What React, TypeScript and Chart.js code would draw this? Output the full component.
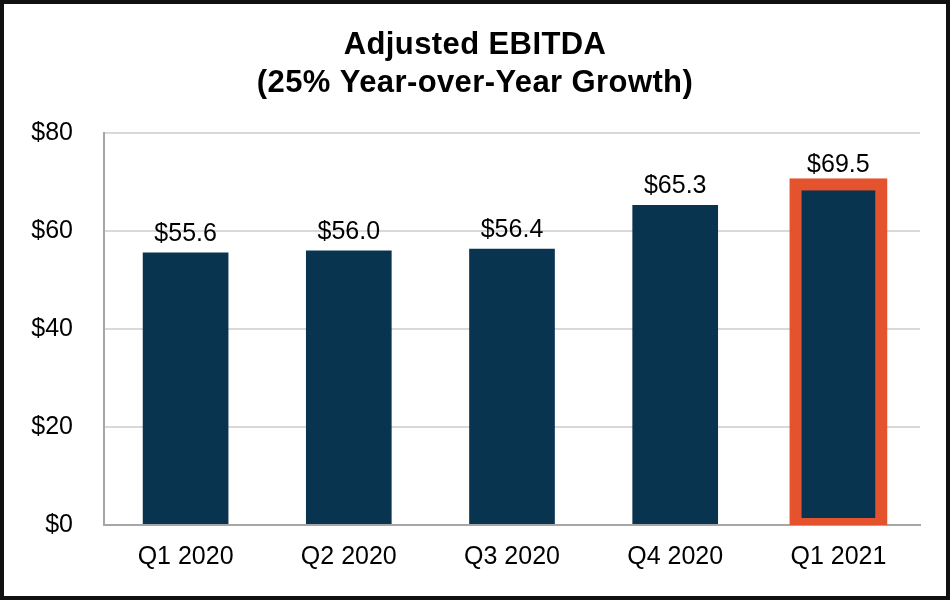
import React, { useEffect, useRef } from "react";
import { Chart, registerables } from "chart.js";

Chart.register(...registerables);

const categories = ["Q1 2020", "Q2 2020", "Q3 2020", "Q4 2020", "Q1 2021"];
const ebitda = [55.6, 56.0, 56.4, 65.3, 69.5];
const valueLabels = ["$55.6", "$56.0", "$56.4", "$65.3", "$69.5"];
const titleLines = ["Adjusted EBITDA", "(25% Year-over-Year Growth)"];
const highlightIndex = 4;

const FONT = "'Liberation Sans', Arial, Helvetica, sans-serif";
const NAVY = "#08344F";
const ORANGE = "#E4532D";

export default function App() {
  const ref = useRef<HTMLCanvasElement | null>(null);

  useEffect(() => {
    if (!ref.current) return;

    const framePlugin = {
      id: "frame",
      beforeDraw(chart: any) {
        const { ctx, width, height } = chart;
        ctx.save();
        ctx.fillStyle = "#ffffff";
        ctx.fillRect(0, 0, width, height);
        ctx.restore();
      },
      afterDraw(chart: any) {
        const { ctx, width, height } = chart;
        ctx.save();
        ctx.fillStyle = "#000000";
        ctx.font = `bold 31px ${FONT}`;
        try {
          (ctx as any).letterSpacing = "0.4px";
        } catch (e) {}
        ctx.textAlign = "center";
        ctx.textBaseline = "alphabetic";
        ctx.fillText(titleLines[0], width / 2, 53.5);
        ctx.fillText(titleLines[1], width / 2, 92);
        ctx.restore();

        ctx.save();
        ctx.strokeStyle = "#111111";
        ctx.lineWidth = 8;
        ctx.strokeRect(0, 0, width, height);
        ctx.restore();
      },
    };

    const highlightPlugin = {
      id: "highlight",
      afterDatasetsDraw(chart: any) {
        const { ctx, chartArea } = chart;
        const meta = chart.getDatasetMeta(0);
        const bar = meta.data[highlightIndex] as any;
        if (!bar) return;
        const w = bar.width;
        ctx.save();
        ctx.beginPath();
        ctx.rect(chartArea.left, 0, chartArea.right - chartArea.left, chartArea.bottom);
        ctx.clip();
        ctx.strokeStyle = ORANGE;
        ctx.lineWidth = 12;
        ctx.strokeRect(bar.x - w / 2, bar.y, w, bar.base - bar.y);
        ctx.restore();

        ctx.save();
        ctx.fillStyle = "#000000";
        ctx.font = `25px ${FONT}`;
        ctx.textAlign = "center";
        ctx.textBaseline = "alphabetic";
        meta.data.forEach((el: any, i: number) => {
          ctx.fillText(valueLabels[i], el.x, el.y - 12);
        });
        ctx.restore();
      },
    };

    const chart = new Chart(ref.current, {
      type: "bar",
      data: {
        labels: categories,
        datasets: [
          {
            data: ebitda,
            backgroundColor: NAVY,
            borderWidth: 0,
            barPercentage: 0.525,
            categoryPercentage: 1,
          },
        ],
      },
      options: {
        animation: false,
        responsive: false,
        maintainAspectRatio: false,
        layout: { padding: { left: 0, right: 30, top: 133, bottom: 0 } },
        plugins: {
          legend: { display: false },
          tooltip: { enabled: false },
          title: { display: false },
        },
        scales: {
          x: {
            grid: { display: false, drawTicks: false },
            border: { display: true, color: "#A6A6A6", width: 2 },
            ticks: {
              color: "#000000",
              font: { family: FONT, size: 25 },
              padding: 17,
              maxRotation: 0,
            },
            afterFit(scale: any) {
              scale.height = 75;
            },
          },
          y: {
            min: 0,
            max: 80,
            grid: {
              drawTicks: false,
              color: (c: any) => (c.tick && c.tick.value === 0 ? "rgba(0,0,0,0)" : "#D9D9D9"),
              lineWidth: 2,
            },
            border: { display: true, color: "#A6A6A6", width: 2 },
            ticks: {
              stepSize: 20,
              color: "#000000",
              font: { family: FONT, size: 25 },
              padding: 31,
              callback: (v: any) => "$" + v,
            },
            afterFit(scale: any) {
              scale.width = 104;
            },
          },
        },
      },
      plugins: [framePlugin, highlightPlugin],
    });

    return () => chart.destroy();
  }, []);

  return (
    <div style={{ position: "absolute", left: 0, top: 0, width: 950, height: 600 }}>
      <canvas ref={ref} width={950} height={600} style={{ width: 950, height: 600, display: "block" }} />
    </div>
  );
}
